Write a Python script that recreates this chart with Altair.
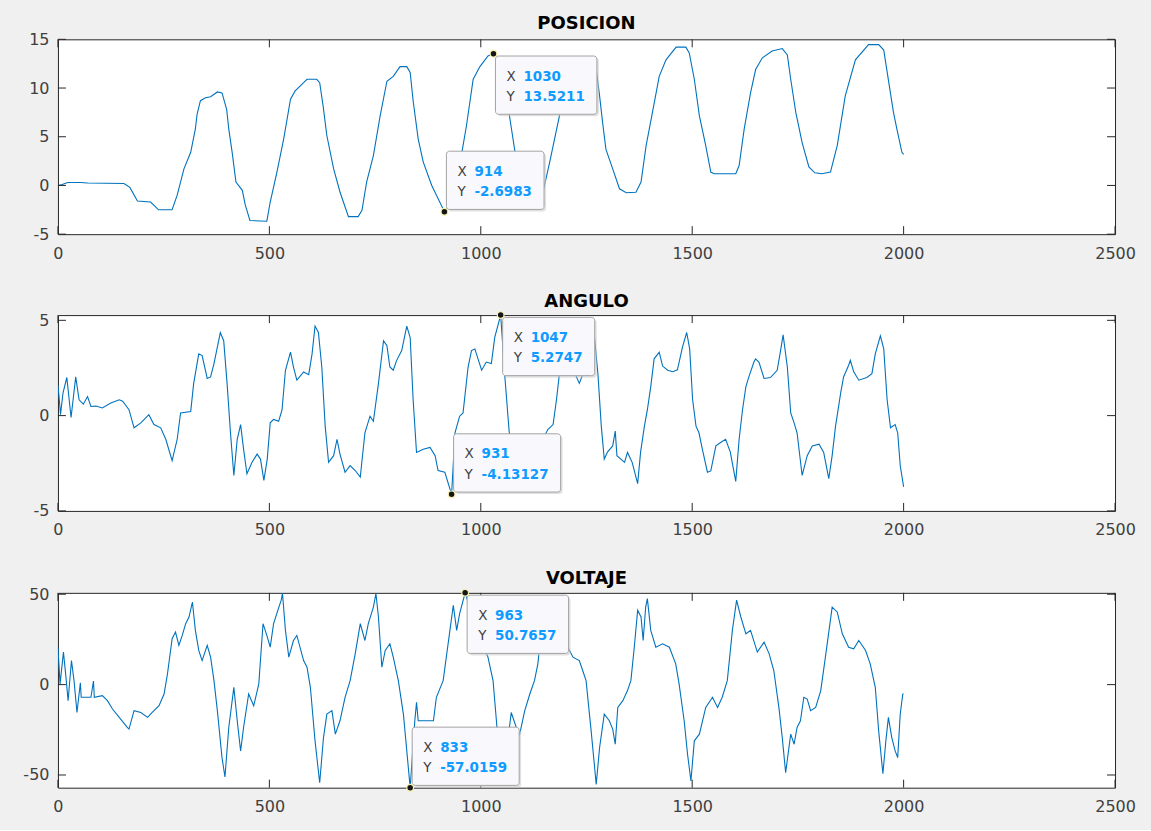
import altair as alt
import pandas as pd

FONT = "DejaVu Sans"
BG = "#f0f0f0"
FRAME = "#262626"
LABEL = "#404040"
BLUE = "#0072BD"
TIP_BLUE = "#0f9bff"

X_TICKS = [0, 500, 1000, 1500, 2000, 2500]
titles = ["POSICION", "ANGULO", "VOLTAJE"]
y_domains = [[-5, 15], [-5, 5.2747], [-57.0159, 50.7657]]
y_ticks = [[-5, 0, 5, 10, 15], [-5, 0, 5], [-50, 0, 50]]

# ---------------- POSICION ----------------
pos_x = [0, 10, 23, 54, 70, 156, 170, 188, 219, 238,
         270, 282, 298, 314, 325, 329, 337, 349, 361, 377,
         388, 399, 404, 412, 421, 436, 443, 454, 494, 502,
         518, 534, 550, 561, 581, 589, 612, 619, 627, 636,
         652, 667, 687, 710, 719, 730, 746, 762, 778, 793,
         809, 825, 833, 840, 852, 864, 884, 914, 930, 945,
         954, 966, 982, 998, 1017, 1030, 1040, 1055, 1068, 1080,
         1095, 1110, 1125, 1138, 1147, 1163, 1186, 1205, 1222, 1240,
         1258, 1273, 1281, 1288, 1296, 1312, 1328, 1344, 1367, 1379,
         1391, 1406, 1422, 1438, 1462, 1485, 1493, 1505, 1517, 1532,
         1544, 1552, 1603, 1611, 1623, 1638, 1650, 1666, 1689, 1713,
         1725, 1733, 1745, 1760, 1776, 1790, 1807, 1827, 1843, 1862,
         1886, 1917, 1941, 1953, 1965, 1976, 1984, 1996, 2000]
pos_y = [0.0, 0.1, 0.3, 0.3, 0.25, 0.2, -0.2, -1.6, -1.7, -2.5,
         -2.5, -1.0, 1.7, 3.4, 5.8, 7.3, 8.7, 9.0, 9.1, 9.6,
         9.5, 7.8, 5.8, 3.4, 0.35, -0.5, -2.0, -3.6, -3.67, -1.7,
         1.4, 4.8, 8.85, 9.7, 10.55, 10.9, 10.9, 10.55, 8.2, 5.1,
         1.7, -0.67, -3.2, -3.2, -2.55, 0.35, 3.06, 7.14, 10.7, 11.2,
         12.2, 12.2, 11.6, 8.7, 4.76, 2.4, 0.0, -2.6983, -1.6, 1.0,
         3.06, 6.1, 10.9, 12.2, 13.3, 13.5211, 13.2, 11.0, 7.1, 3.7,
         0.2, -1.5, -1.9, -1.5, -0.7, 2.4, 7.14, 10.8, 12.6, 13.2,
         13.0, 11.9, 9.2, 6.5, 3.7, 1.7, -0.34, -0.75, -0.7, 0.35,
         4.08, 7.5, 11.2, 12.9, 14.2, 14.2, 13.6, 10.9, 7.14, 4.08,
         1.37, 1.2, 1.2, 2.04, 5.8, 9.5, 11.9, 13.1, 13.8, 14.05,
         13.4, 10.9, 7.5, 4.4, 1.9, 1.3, 1.2, 1.37, 4.08, 9.2,
         12.9, 14.46, 14.46, 13.9, 10.55, 7.5, 5.8, 3.4, 3.2]

# ---------------- ANGULO ----------------
ang_x = [0, 3, 6, 12, 21, 31, 42, 50, 60, 70,
         78, 90, 105, 125, 145, 153, 168, 180, 196, 215,
         227, 243, 255, 270, 282, 290, 314, 321, 333, 341,
         353, 361, 369, 384, 392, 400, 408, 416, 424, 432,
         439, 447, 459, 471, 479, 487, 495, 502, 510, 522,
         530, 538, 550, 557, 565, 581, 593, 601, 608, 616,
         624, 632, 640, 652, 660, 667, 679, 691, 703, 715,
         726, 738, 746, 758, 770, 778, 785, 793, 801, 813,
         825, 833, 840, 848, 864, 880, 892, 899, 915, 931,
         939, 950, 958, 970, 978, 986, 1002, 1013, 1025, 1033,
         1047, 1057, 1067, 1078, 1090, 1105, 1120, 1140, 1159, 1171,
         1179, 1186, 1200, 1215, 1233, 1241, 1255, 1269, 1277, 1285,
         1292, 1300, 1312, 1318, 1322, 1340, 1347, 1358, 1371, 1378,
         1387, 1394, 1402, 1410, 1422, 1430, 1442, 1454, 1465, 1477,
         1487, 1494, 1501, 1509, 1516, 1524, 1536, 1544, 1556, 1568,
         1579, 1590, 1603, 1611, 1619, 1627, 1634, 1646, 1650, 1658,
         1670, 1685, 1701, 1709, 1715, 1725, 1733, 1741, 1748, 1760,
         1772, 1784, 1800, 1811, 1823, 1831, 1839, 1851, 1858, 1870,
         1874, 1882, 1894, 1913, 1925, 1933, 1945, 1953, 1961, 1969,
         1980, 1986, 1992, 2000]
ang_y = [1.6, 0.9, 0.05, 1.2, 2.0, -0.1, 2.03, 0.83, 0.6, 1.0,
         0.48, 0.5, 0.4, 0.66, 0.83, 0.76, 0.31, -0.64, -0.38, 0.05,
         -0.47, -0.64, -1.24, -2.36, -1.24, 0.14, 0.22, 1.69, 3.24, 3.15,
         1.95, 2.03, 2.73, 4.36, 3.93, 1.69, -0.9, -3.14, -1.24, -0.47,
         -1.76, -3.05, -2.45, -2.02, -2.28, -3.4, -2.28, -0.38, -0.2, -0.3,
         0.31, 2.38, 3.33, 2.55, 1.86, 2.29, 2.15, 3.24, 4.7, 4.36,
         2.55, -0.55, -2.45, -2.1, -1.24, -2.02, -2.97, -2.62, -2.88, -3.22,
         -0.9, -0.03, -0.3, 1.69, 3.93, 3.67, 2.55, 2.38, 2.9, 3.41,
         4.7, 4.1, 0.83, -1.93, -1.76, -1.67, -2.1, -2.88, -2.97, -4.13127,
         -0.9, -0.03, 0.14, 2.55, 3.41, 3.5, 2.38, 2.81, 2.73, 4.1,
         5.2747, 2.03, -0.81, -2.4, -2.0, -2.8, -2.3, -1.5, -0.72, -0.47,
         0.83, 2.2, 3.3, 2.6, 1.69, 2.15, 2.4, 4.1, 2.2, -0.55,
         -2.28, -1.9, -1.59, -0.81, -2.1, -2.45, -1.93, -2.45, -3.57, -1.9,
         -0.55, 0.31, 1.52, 2.98, 3.33, 2.6, 2.38, 2.3, 2.4, 3.59,
         4.36, 3.5, 0.83, -0.55, -0.9, -1.76, -2.97, -2.9, -1.59, -1.4,
         -1.24, -1.9, -3.45, -1.24, 0.31, 1.52, 2.03, 2.81, 2.98, 2.8,
         1.95, 2.0, 2.38, 3.41, 4.24, 2.55, 0.14, -0.38, -0.9, -3.14,
         -2.1, -1.59, -1.5, -1.93, -3.31, -2.1, -0.55, 1.17, 2.03, 2.64,
         2.9, 2.3, 1.86, 2.0, 2.2, 3.24, 4.19, 3.5, 0.83, -0.64,
         -0.47, -0.9, -2.62, -3.74]

# ---------------- VOLTAJE ----------------
vol_x = [0, 5, 13, 19, 24, 32, 38, 45, 53, 55,
         78, 84, 86, 105, 117, 129, 145, 164, 168, 180,
         196, 212, 223, 239, 251, 259, 270, 278, 286, 294,
         302, 310, 318, 325, 333, 341, 353, 361, 369, 377,
         388, 395, 404, 416, 424, 432, 439, 451, 463, 475,
         485, 494, 502, 510, 520, 528, 531, 538, 546, 557,
         565, 581, 589, 597, 608, 619, 628, 636, 648, 656,
         667, 679, 691, 703, 715, 726, 734, 746, 752, 758,
         766, 774, 785, 793, 805, 817, 833, 844, 848, 852,
         864, 888, 895, 911, 927, 935, 943, 950, 963, 980,
         1000, 1017, 1029, 1037, 1045, 1052, 1062, 1072, 1084, 1092,
         1104, 1116, 1127, 1135, 1139, 1150, 1165, 1175, 1185, 1194,
         1206, 1218, 1233, 1241, 1249, 1261, 1273, 1281, 1292, 1304,
         1312, 1318, 1324, 1336, 1347, 1355, 1363, 1371, 1379, 1384,
         1390, 1394, 1402, 1414, 1430, 1446, 1461, 1469, 1481, 1489,
         1497, 1505, 1517, 1532, 1548, 1560, 1571, 1583, 1595, 1605,
         1615, 1627, 1638, 1654, 1670, 1682, 1693, 1705, 1713, 1721,
         1733, 1741, 1748, 1756, 1764, 1772, 1780, 1792, 1804, 1815,
         1831, 1843, 1855, 1870, 1882, 1894, 1910, 1921, 1933, 1941,
         1951, 1958, 1964, 1972, 1980, 1986, 1992, 1998, 2000]
vol_y = [20.7, 0.4, 18, 4, -8.9, 13.3, 2.2, -15.4, 1, -7,
         -7, 2, -7, -6.1, -8.9, -13.5, -18.1, -23.7, -24.6, -14.4,
         -15.4, -18.1, -15.4, -11.7, -5.2, 5.9, 25.4, 29.1, 21.7, 27.2,
         33.7, 37.4, 45.7, 30, 18.9, 13.3, 21.7, 15.2, 2.2, -14.4,
         -40.4, -51.1, -23.7, -1.5, -20, -36.7, -23.7, -5.2, -11.7, 0.4,
         33.7, 27.2, 20.7, 33.7, 41.1, 46.7, 50.5, 30, 15.2, 24.4,
         27.2, 13.3, 9.6, -1.5, -31.1, -54.3, -29.3, -16.3, -14.4, -27.4,
         -20, -7, 2.2, 17, 33.7, 24.4, 33.7, 42.9, 50.4, 37.4,
         9.6, 18.9, 22.6, 15.2, 2.2, -16.3, -57.0159, -20, -9.8, -20,
         -20, -20, -7, 2.2, 30, 43.9, 30, 39.3, 50.7657, 38,
         24, 15.2, 2.2, -20, -45, -55, -35, -15.4, -23.7, -27.4,
         -14.4, -5.2, 2.2, 11.5, 20.7, 35, 45, 38, 25, 18,
         20.7, 15.2, 13.3, 7.8, 2.2, -25.6, -55.2, -34.8, -16.3, -20,
         -24.6, -33, -12.6, -8.9, -3.3, 2.2, 20.7, 41.1, 37.4, 24.4,
         42.9, 47.6, 30, 20.7, 22.6, 20.7, 11.5, 0.4, -20, -38.5,
         -53.3, -31.1, -27.4, -12.6, -7, -12.6, -7, 2.2, 30, 46.7,
         37.4, 28.1, 30, 18, 23.5, 17, 7.8, -12.6, -29.3, -48.7,
         -27.4, -33, -23.7, -20, -7, -8, -14.4, -12.6, -3.3, 15.2,
         42.9, 40.2, 28.1, 20.7, 19.8, 24.4, 18.9, 11.5, -1.5, -25.6,
         -49.3, -31.1, -18.1, -29.3, -36.7, -40.4, -16.3, -5.2, -5]

series_x = [pos_x, ang_x, vol_x]
series_y = [pos_y, ang_y, vol_y]

# ---------------- data tips ----------------
tip_panel = [0, 0, 1, 1, 2, 2]
tip_x = [1030, 914, 1047, 931, 963, 833]
tip_y = [13.5211, -2.6983, 5.2747, -4.13127, 50.7657, -57.0159]
tip_y_text = ["13.5211", "-2.6983", "5.2747", "-4.13127", "50.7657", "-57.0159"]
tip_side = ["below", "above", "below", "above", "below", "above"]

W = 1058
HEIGHTS = [195, 196, 195]
TICK = 8
TIP_FS = 13.5


def val_width(s, size):
    return size * sum(0.380 if c == "." else 0.415 if c == "-" else 0.696 for c in s)


def tip_layers(i, xsc, ysc, xaxis, yaxis):
    d = pd.DataFrame({"x": [tip_x[i]], "y": [tip_y[i]],
                      "vx": [str(tip_x[i])], "vy": [tip_y_text[i]]})
    base = alt.Chart(d).encode(
        x=alt.X("x:Q", scale=xsc, axis=xaxis),
        y=alt.Y("y:Q", scale=ysc, axis=yaxis),
    )
    vw = max(val_width(str(tip_x[i]), TIP_FS), val_width(tip_y_text[i], TIP_FS))
    left, right = 2, 30 + vw + 12
    top = 2.3 if tip_side[i] == "below" else -60.6
    bottom = top + 58.3
    shadow = base.mark_rect(color="#c8c8c8", opacity=0.55, cornerRadius=3,
                            xOffset=left + 2, x2Offset=right + 2,
                            yOffset=top + 2, y2Offset=bottom + 2).encode(
        x2=alt.X2("x:Q"), y2=alt.Y2("y:Q"))
    box = base.mark_rect(fill="#f9f9fd", stroke="#a3a3a3", strokeWidth=1, cornerRadius=3,
                         xOffset=left, x2Offset=right, yOffset=top, y2Offset=bottom).encode(
        x2=alt.X2("x:Q"), y2=alt.Y2("y:Q"))
    l1 = base.mark_text(align="left", baseline="middle", dx=13, dy=top + 20.5,
                        font=FONT, fontSize=TIP_FS, color=LABEL).encode(text=alt.value("X"))
    l2 = base.mark_text(align="left", baseline="middle", dx=13, dy=top + 41,
                        font=FONT, fontSize=TIP_FS, color=LABEL).encode(text=alt.value("Y"))
    v1 = base.mark_text(align="left", baseline="middle", dx=30, dy=top + 20.5,
                        font=FONT, fontSize=TIP_FS, fontWeight="bold",
                        color=TIP_BLUE).encode(text="vx:N")
    v2 = base.mark_text(align="left", baseline="middle", dx=30, dy=top + 41,
                        font=FONT, fontSize=TIP_FS, fontWeight="bold",
                        color=TIP_BLUE).encode(text="vy:N")
    dot = base.mark_circle(size=45, fill="#151515", stroke="#f6f0b0",
                           strokeWidth=1.2, opacity=1)
    return [shadow, box, l1, l2, v1, v2, dot]


def panel(k):
    H = HEIGHTS[k]
    xsc = alt.Scale(domain=[0, 2500], nice=False, zero=False)
    ysc = alt.Scale(domain=y_domains[k], nice=False, zero=False)
    df = pd.DataFrame({"x": series_x[k], "y": series_y[k]})
    xaxis = alt.Axis(values=X_TICKS, ticks=False, domain=False, grid=False, title=None,
                     labelFont=FONT, labelFontSize=16, labelColor=LABEL, labelPadding=11,
                     labelFlush=False, labelOverlap=False, labelExpr="datum.value + ''")
    yaxis = alt.Axis(values=y_ticks[k], ticks=False, domain=False, grid=False, title=None,
                     labelFont=FONT, labelFontSize=16, labelColor=LABEL, labelPadding=9,
                     labelFlush=False, labelOverlap=False, labelExpr="datum.value + ''")
    line = alt.Chart(df).mark_line(color=BLUE, strokeWidth=1.1, clip=True).encode(
        x=alt.X("x:Q", scale=xsc, axis=xaxis),
        y=alt.Y("y:Q", scale=ysc, axis=yaxis),
    )
    xt = pd.DataFrame({"x": X_TICKS})
    yt = pd.DataFrame({"y": y_ticks[k]})
    xb = alt.Chart(xt).mark_rule(color=FRAME, strokeWidth=1).encode(
        x=alt.X("x:Q", scale=xsc, axis=xaxis), y=alt.value(H), y2=alt.value(H - TICK))
    xtp = alt.Chart(xt).mark_rule(color=FRAME, strokeWidth=1).encode(
        x=alt.X("x:Q", scale=xsc, axis=xaxis), y=alt.value(0), y2=alt.value(TICK))
    yl = alt.Chart(yt).mark_rule(color=FRAME, strokeWidth=1).encode(
        y=alt.Y("y:Q", scale=ysc, axis=yaxis), x=alt.value(0), x2=alt.value(TICK))
    yr = alt.Chart(yt).mark_rule(color=FRAME, strokeWidth=1).encode(
        y=alt.Y("y:Q", scale=ysc, axis=yaxis), x=alt.value(W), x2=alt.value(W - TICK))
    layers = [line, xb, xtp, yl, yr]
    for i in range(len(tip_x)):
        if tip_panel[i] == k:
            layers += tip_layers(i, xsc, ysc, xaxis, yaxis)
    return alt.layer(*layers).properties(
        width=W, height=H,
        title=alt.TitleParams(titles[k], font=FONT, fontSize=18, fontWeight="bold",
                              color="black", anchor="middle", frame="group",
                              baseline="alphabetic", offset=-16),
    )


chart = alt.vconcat(panel(0), panel(1), panel(2), spacing=30).resolve_scale(
    x="independent", y="independent"
).properties(
    background=BG,
    padding={"left": 22, "top": 14, "right": 15, "bottom": 14},
).configure_view(stroke=FRAME, strokeWidth=1, fill="white")

chart.save("out.html", embed_options={"renderer": "svg", "actions": False})
